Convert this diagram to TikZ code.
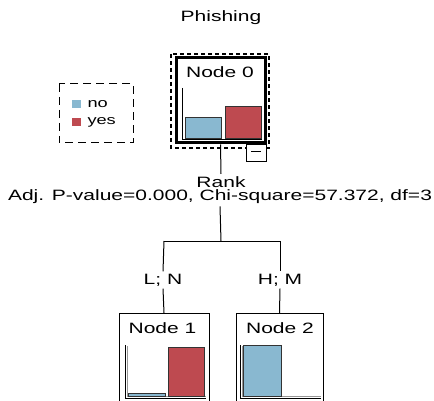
\documentclass[tikz,border=0pt]{standalone}
\usepackage{fontspec}
\setmainfont[FakeStretch=1.4]{Liberation Sans}
\definecolor{barno}{RGB}{137,184,208}
\definecolor{baryes}{RGB}{190,74,80}
\definecolor{axisgray}{RGB}{150,150,150}
\tikzset{
  treebox/.style={draw=black, fill=white, rectangle, line width=1pt},
  bar/.style={draw=black!80, line width=1pt},
  axisline/.style={draw=black, line width=1pt},
  legbox/.style={draw=black, line width=1pt, dash pattern=on 8pt off 5pt}
}

\begin{document}
\begin{tikzpicture}[x=1pt,y=-1pt,line width=1pt,every node/.style={font=\fontsize{15}{18}\selectfont, inner sep=2pt}]
\useasboundingbox (0,0) rectangle (434,401);
\clip (0,0) rectangle (434,401);

\coordinate (split) at (221,241);
\coordinate (brL) at (164,241);
\coordinate (brR) at (280,241);

\node (title) at (221,18) {Phishing};

% legend
\draw[legbox] (59,84) rectangle (133,143);
\fill[barno] (72,100) rectangle (81,108);
\fill[baryes] (72,118) rectangle (81,126);
\node[anchor=west, font=\fontsize{13}{15}\selectfont] (lgno) at (85,104) {no};
\node[anchor=west, font=\fontsize{13}{15}\selectfont] (lgyes) at (85,122) {yes};

% root
\draw[line width=1.2pt, dash pattern=on 4pt off 3pt] (171,54) rectangle (269,148);
\node[treebox, line width=3pt, minimum width=89pt, minimum height=85pt] (node0) at (220.5,100.5) {};
\node (t0) at (220,72) {Node 0};
\draw[axisline] (182,88) -- (182,140) -- (262,140);
\draw[bar, fill=barno] (185,118) rectangle (221,139);
\draw[bar, fill=baryes] (225,107) rectangle (261,139);
\node[treebox, minimum width=20pt, minimum height=17pt] (coll) at (256,153) {};
\draw (251,152) -- (261,152);

\node (rank) at (221,182) {Rank};
\node (adj) at (220,197) {Adj. P-value=0.000, Chi-square=57.372, df=3};

\node (lblL) at (163,280) {L; N};
\node (lblR) at (280,280) {H; M};

% children
\node[treebox, anchor=north, minimum width=90pt, minimum height=100pt] (node1) at (164,313) {};
\node[treebox, anchor=north, minimum width=87pt, minimum height=100pt] (node2) at (279.5,313) {};
\node (t1) at (162.5,328) {Node 1};
\node (t2) at (280,328) {Node 2};

\draw[axisgray] (127,346) -- (127,396) -- (206,396);
\draw[axisline] (125,345) -- (125,398) -- (206,398);
\draw[bar, fill=barno] (128,393) rectangle (165,396);
\draw[bar, fill=baryes] (168,347) rectangle (204,396);

\draw[axisgray] (242,346) -- (242,396) -- (321,396);
\draw[axisline] (240,345) -- (240,398) -- (321,398);
\draw[bar, fill=barno] (243,345) rectangle (281,396);

% connectors
\draw (node0.south) -- (rank.north);
\draw (adj.south) -- (split);
\draw (brL) -- (brR);
\draw (brL) -- (lblL.north);
\draw (brR) -- (lblR.north);
\draw (lblL.south) -- (node1.north);
\draw (lblR.south) -- (node2.north);
\end{tikzpicture}
\end{document}
